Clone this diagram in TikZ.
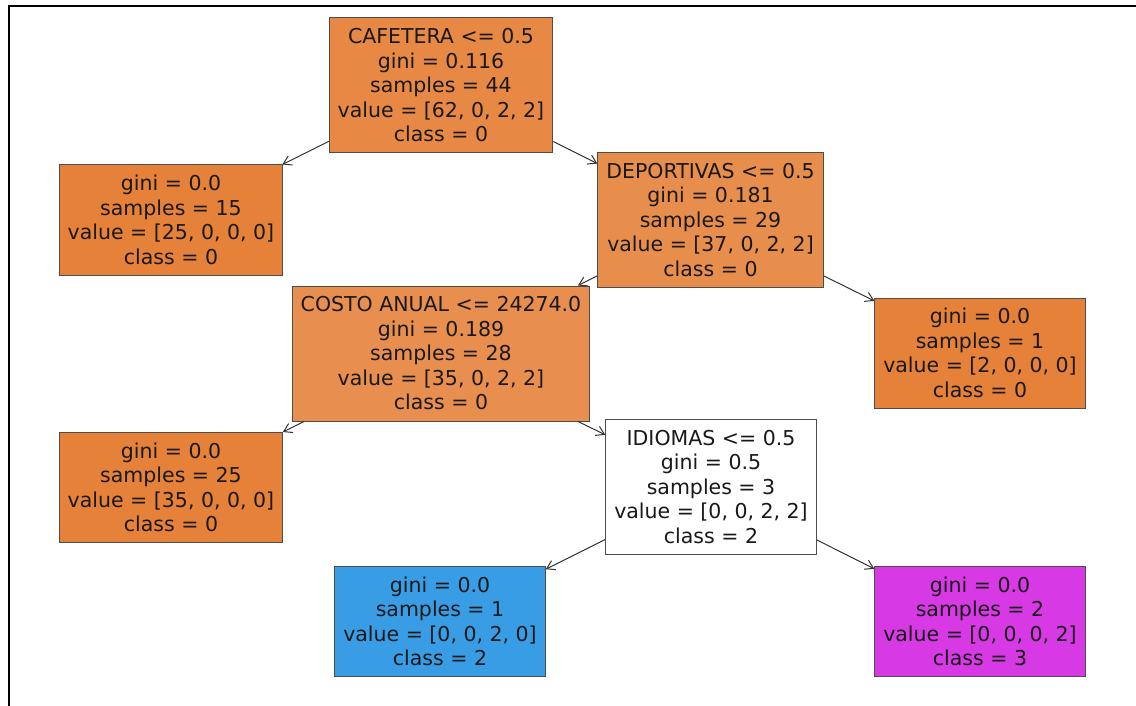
\documentclass[tikz,border=0pt]{standalone}
\usepackage{fontspec}
\setmainfont{DejaVu Sans}
\usetikzlibrary{arrows.meta}
\definecolor{pureorange}{RGB}{229,129,57}
\definecolor{rootorange}{RGB}{231,137,69}
\definecolor{deporange}{RGB}{232,142,77}
\definecolor{costorange}{RGB}{232,143,79}
\definecolor{pureblue}{RGB}{57,157,229}
\definecolor{puremagenta}{RGB}{215,57,229}
\tikzset{
  box/.style={draw=black!70,line width=1pt,text=black!90,inner xsep=8.5pt,inner ysep=0pt,
    align=center,font=\fontsize{20.5}{24.5}\selectfont},
  split/.style={box,minimum height=135pt},
  leaf/.style={box,minimum height=110pt},
  edge/.style={draw=black!80,line width=1pt,-{Straight Barb[length=8pt,width=10pt]}}
}
\begin{document}
\begin{tikzpicture}[x=1pt,y=-1pt]
  \useasboundingbox (0,0) rectangle (1136,706);
  \draw[line width=2pt] (8.5,706) -- (8.5,6) -- (1136,6);
  \node[split,fill=rootorange] (root) at (441,85.5) {CAFETERA <= 0.5\\gini = 0.116\\samples = 44\\value = [62, 0, 2, 2]\\class = 0};
  \node[leaf,fill=pureorange] (leafa) at (171,220) {gini = 0.0\\samples = 15\\value = [25, 0, 0, 0]\\class = 0};
  \node[split,fill=deporange] (dep) at (710.5,220) {DEPORTIVAS <= 0.5\\gini = 0.181\\samples = 29\\value = [37, 0, 2, 2]\\class = 0};
  \node[split,fill=costorange] (costo) at (441,353.5) {COSTO ANUAL <= 24274.0\\gini = 0.189\\samples = 28\\value = [35, 0, 2, 2]\\class = 0};
  \node[leaf,fill=pureorange] (leafb) at (980,353) {gini = 0.0\\samples = 1\\value = [2, 0, 0, 0]\\class = 0};
  \node[leaf,fill=pureorange] (leafc) at (171,487.5) {gini = 0.0\\samples = 25\\value = [35, 0, 0, 0]\\class = 0};
  \node[split,fill=white] (idiomas) at (711,487) {IDIOMAS <= 0.5\\gini = 0.5\\samples = 3\\value = [0, 0, 2, 2]\\class = 2};
  \node[leaf,fill=pureblue] (leafd) at (440,621.5) {gini = 0.0\\samples = 1\\value = [0, 0, 2, 0]\\class = 2};
  \node[leaf,fill=puremagenta] (leafe) at (980,621.5) {gini = 0.0\\samples = 2\\value = [0, 0, 0, 2]\\class = 3};
  \draw[edge] (root) -- (leafa);
  \draw[edge] (root) -- (dep);
  \draw[edge] (dep) -- (costo);
  \draw[edge] (dep) -- (leafb);
  \draw[edge] (costo) -- (leafc);
  \draw[edge] (costo) -- (idiomas);
  \draw[edge] (idiomas) -- (leafd);
  \draw[edge] (idiomas) -- (leafe);
\end{tikzpicture}
\end{document}
